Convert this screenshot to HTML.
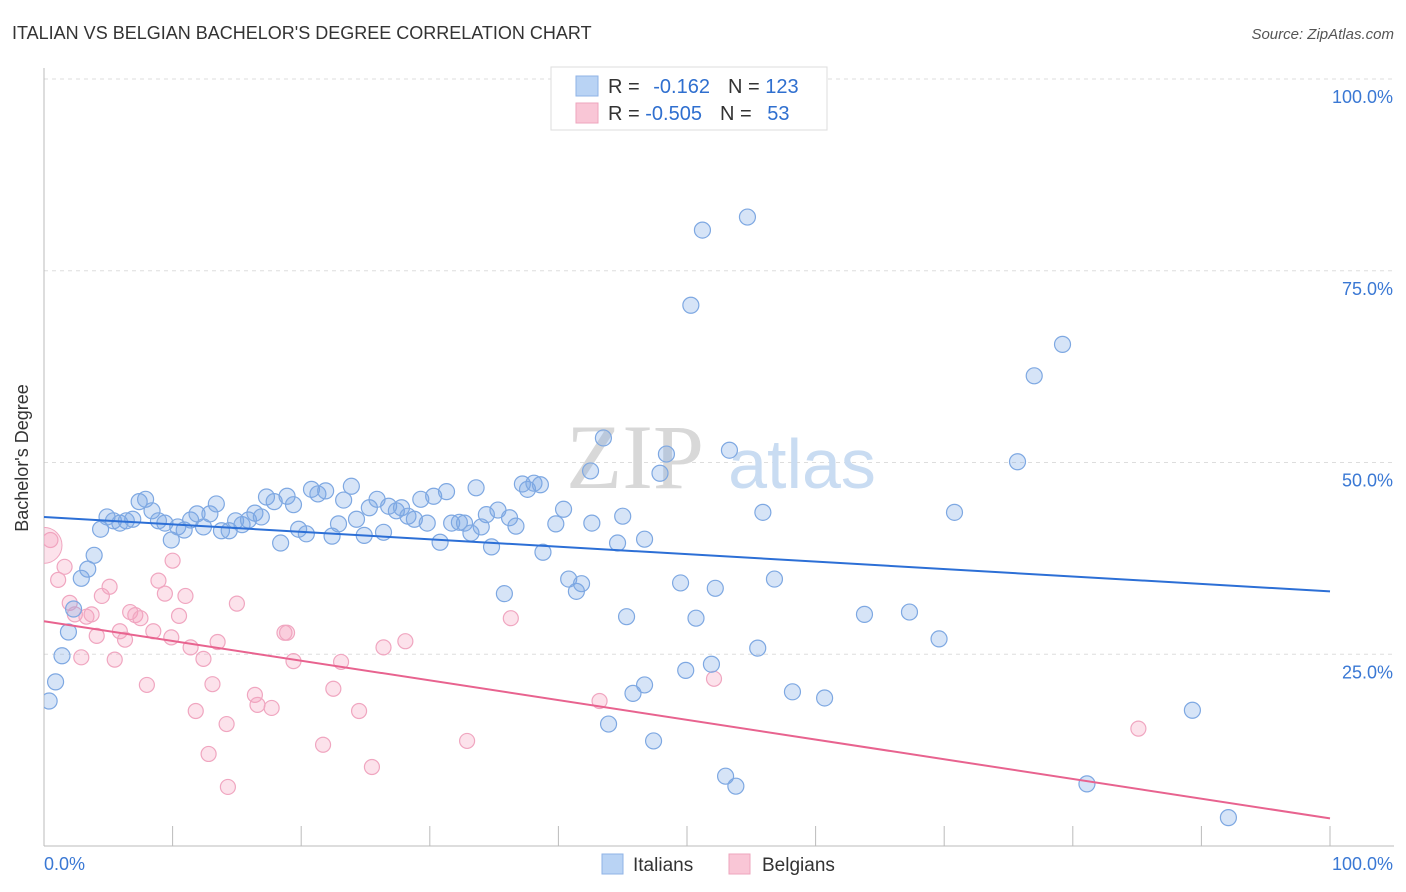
<!DOCTYPE html>
<html><head><meta charset="utf-8"><style>
body{margin:0;background:#fff;font-family:"Liberation Sans",sans-serif;}
svg{display:block}
</style></head><body>
<svg width="1406" height="892" viewBox="0 0 1406 892">
<defs><clipPath id="plotclip"><rect x="44" y="0" width="1362" height="846"/></clipPath></defs>
<text x="12" y="39" font-size="18" fill="#333">ITALIAN VS BELGIAN BACHELOR'S DEGREE CORRELATION CHART</text>
<text x="1394" y="39" font-size="15" fill="#555" font-style="italic" text-anchor="end">Source: ZipAtlas.com</text>
<g id="grid"></g>
<text x="635" y="488" font-size="92" fill="#d8d8d8" font-family="Liberation Serif,serif" text-anchor="middle">ZIP</text>
<text x="802" y="488" font-size="70" fill="#c9dcf2" text-anchor="middle">atlas</text>
<g id="pts" clip-path="url(#plotclip)"></g>
<g id="lines"></g>
<text x="28" y="458" font-size="18" fill="#333" transform="rotate(-90 28 458)" text-anchor="middle">Bachelor's Degree</text>
<g>
<rect x="551" y="67" width="276" height="63" fill="#fff" stroke="#ddd"/>
<rect x="576" y="76" width="22" height="20" fill="#b9d3f4" stroke="#8fb3e6"/>
<rect x="576" y="103" width="22" height="20" fill="#f9c6d6" stroke="#eea5bd"/>
<text x="608" y="93" font-size="20" fill="#333">R = <tspan fill="#2f6fcf" dx="8">-0.162</tspan><tspan dx="18" fill="#333">N = </tspan><tspan fill="#2f6fcf">123</tspan></text>
<text x="608" y="120" font-size="20" fill="#333">R = <tspan fill="#2f6fcf">-0.505</tspan><tspan dx="18" fill="#333">N = </tspan><tspan fill="#2f6fcf" dx="10">53</tspan></text>
</g>
<g>
<rect x="602" y="854" width="21" height="20" fill="#b9d3f4" stroke="#8fb3e6"/>
<text x="633" y="871" font-size="19" fill="#333">Italians</text>
<rect x="729" y="854" width="21" height="20" fill="#f9c6d6" stroke="#eea5bd"/>
<text x="762" y="871" font-size="19" fill="#333">Belgians</text>
</g>
</svg>
<script>
const blueX=[0.4,0.9,1.4,1.9,2.3,2.9,3.4,3.9,4.4,4.9,5.4,5.9,6.4,6.9,7.4,7.9,8.4,8.9,9.4,9.9,10.4,10.9,11.4,11.9,12.4,12.9,13.4,13.8,14.4,14.9,15.4,15.9,16.4,16.9,17.3,17.9,18.4,18.9,19.4,19.8,20.4,20.8,21.3,21.9,22.4,22.9,23.3,23.9,24.3,24.9,25.3,25.9,26.4,26.8,27.4,27.8,28.3,28.8,29.3,29.8,30.3,30.8,31.3,31.7,32.3,32.7,33.2,33.6,34.0,34.4,34.8,35.3,35.8,36.2,36.7,37.2,37.6,38.1,38.6,38.8,39.8,40.4,40.8,41.4,41.8,42.5,42.6,43.5,43.9,44.6,45.0,45.3,45.8,46.7,46.7,47.4,47.9,48.4,49.5,49.9,50.3,50.7,51.2,51.9,52.2,53.0,53.3,53.8,54.7,55.5,55.9,56.8,58.2,60.7,63.8,67.3,69.6,70.8,75.7,77.0,79.2,81.1,89.3,92.1];
const blueY=[18.9,21.4,24.8,27.9,30.9,34.9,36.1,37.9,41.3,42.9,42.4,42.1,42.4,42.6,44.9,45.2,43.7,42.4,42.1,39.9,41.6,41.2,42.5,43.3,41.6,43.3,44.6,41.1,41.1,42.4,41.9,42.5,43.4,42.9,45.5,44.9,39.5,45.6,44.5,41.3,40.7,46.5,45.9,46.3,40.4,42.0,45.1,46.9,42.6,40.5,44.1,45.2,40.9,44.3,43.7,44.1,43.0,42.6,45.2,42.1,45.6,39.6,46.2,42.1,42.2,42.1,40.8,46.7,41.6,43.2,39.0,43.8,32.9,42.8,41.7,47.2,46.5,47.3,47.1,38.3,42.0,43.9,34.8,33.2,34.2,48.9,42.1,53.2,15.9,39.5,43.0,29.9,19.9,40.0,21.0,13.7,48.6,51.1,34.3,22.9,70.5,29.7,80.3,23.7,33.6,9.1,51.6,7.8,82.0,25.8,43.5,34.8,20.1,19.3,30.2,30.5,27.0,43.5,50.1,61.3,65.4,8.1,17.7,3.7];
const pinkX=[0.5,1.1,1.6,2.0,2.4,2.9,3.3,3.7,4.1,4.5,5.1,5.5,5.9,6.3,6.7,7.1,7.5,8.0,8.5,8.9,9.4,9.9,10.0,10.5,11.0,11.4,11.8,12.4,12.8,13.1,13.5,14.2,14.3,15.0,16.4,16.6,17.7,18.7,18.9,19.4,21.7,22.5,23.1,24.5,25.5,26.4,28.1,32.9,36.3,43.2,52.1,85.1];
const pinkY=[39.9,34.7,36.4,31.7,30.2,24.6,29.9,30.2,27.4,32.6,33.8,24.3,28.0,26.9,30.5,30.1,29.7,21.0,28.0,34.6,32.9,27.2,37.2,30.0,32.6,25.9,17.6,24.4,12.0,21.1,26.6,15.9,7.7,31.6,19.7,18.4,18.0,27.8,27.8,24.1,13.2,20.5,24.0,17.6,10.3,25.9,26.7,13.7,29.7,18.9,21.8,15.3];
const bigPink=[0.0,39.2];
const blueTrend=[42.9,33.2];
const pinkTrend=[29.3,3.6];
const yTicks=[25,50,75,100];
const yTickLabels=["25.0%","50.0%","75.0%","100.0%"];
const xTicks=[0,10,20,30,40,50,60,70,80,90,100];
const NS="http://www.w3.org/2000/svg";
const sx=v=>44+v*12.86, sy=v=>846-v*7.67;
function mk(tag,attrs,parent){const e=document.createElementNS(NS,tag);for(const k in attrs)e.setAttribute(k,attrs[k]);parent.appendChild(e);return e;}
const grid=document.getElementById('grid');
yTicks.forEach((t,i)=>{
 const l=mk('line',{x1:44,x2:1394,y1:sy(t),y2:sy(t),stroke:'#ddd','stroke-dasharray':'4,4'},grid);
 
 
 const tx=mk('text',{x:1393,y:sy(t)+24,'font-size':18,fill:'#3a78d4','text-anchor':'end'},grid);
 tx.textContent=yTickLabels[i];
 
 
});
const ax=mk('line',{x1:44,x2:44,y1:68,y2:846,stroke:'#bbb'},grid);


const bx=mk('line',{x1:44,x2:1394,y1:846,y2:846,stroke:'#bbb'},grid);


xTicks.forEach(t=>{const l=mk('line',{x1:sx(t),x2:sx(t),y1:826,y2:846,stroke:'#bbb'},grid);
 
 });
const xl=mk('text',{x:44,y:870,'font-size':18,fill:'#3a78d4'},grid);xl.textContent='0.0%';


const xr=mk('text',{x:1393,y:870,'font-size':18,fill:'#3a78d4','text-anchor':'end'},grid);xr.textContent='100.0%';


const pts=document.getElementById('pts');
pinkX.forEach((x,i)=>{const c=mk('circle',{cx:sx(x),cy:sy(pinkY[i]),r:7.5,fill:'rgba(244,160,190,0.3)',stroke:'#f0a6c0','stroke-width':1.2},pts);
 
 });
const bp=mk('circle',{cx:sx(bigPink[0]),cy:sy(bigPink[1]),r:18,fill:'rgba(244,160,190,0.3)',stroke:'#f0a6c0'},pts);


blueX.forEach((x,i)=>{const c=mk('circle',{cx:sx(x),cy:sy(blueY[i]),r:8,fill:'rgba(120,165,230,0.3)',stroke:'#7ea8e2','stroke-width':1.2},pts);
 
 });
const lines=document.getElementById('lines');
const tb=mk('line',{x1:sx(0),y1:sy(blueTrend[0]),x2:sx(100),y2:sy(blueTrend[1]),stroke:'#2c6fd6','stroke-width':2},lines);


const tp=mk('line',{x1:sx(0),y1:sy(pinkTrend[0]),x2:sx(100),y2:sy(pinkTrend[1]),stroke:'#e8638f','stroke-width':2},lines);


</script>
</body></html>
